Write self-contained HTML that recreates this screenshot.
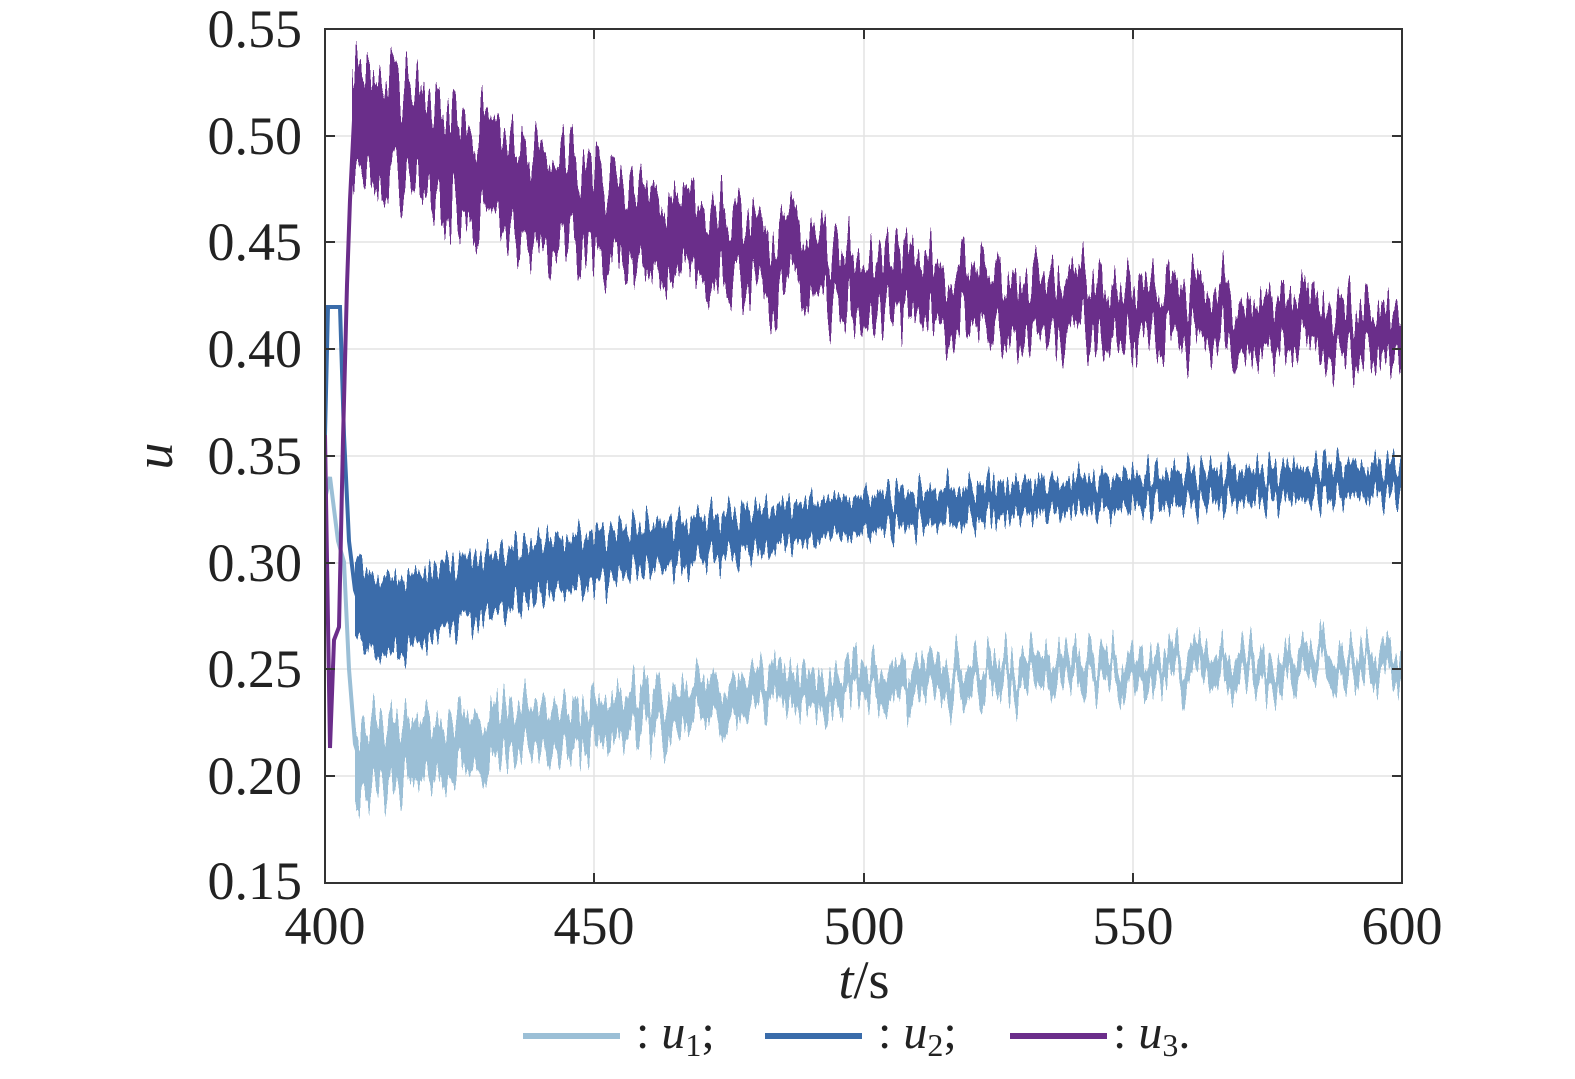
<!DOCTYPE html>
<html><head><meta charset="utf-8"><style>
html,body{margin:0;padding:0;background:#fff;}
svg{display:block;font-family:"Liberation Serif",serif;}
</style></head><body>
<svg width="1575" height="1079" viewBox="0 0 1575 1079" xmlns="http://www.w3.org/2000/svg">
<defs>
<clipPath id="cp"><rect x="325" y="29" width="1077" height="854"/></clipPath>
<filter id="n1" filterUnits="userSpaceOnUse" x="300" y="0" width="1150" height="950">
<feTurbulence type="fractalNoise" baseFrequency="0.22 0.002" numOctaves="2" seed="3" result="t"/>
<feColorMatrix in="t" type="matrix" values="0 0 0 0 0.5  0 1 0 0 0  0 0 0 0 0  0 0 0 0 1" result="m"/>
<feDisplacementMap in="SourceGraphic" in2="m" scale="90" xChannelSelector="R" yChannelSelector="G"/>
</filter>
<filter id="n2" filterUnits="userSpaceOnUse" x="300" y="0" width="1150" height="950">
<feTurbulence type="fractalNoise" baseFrequency="0.22 0.002" numOctaves="2" seed="7" result="t"/>
<feColorMatrix in="t" type="matrix" values="0 0 0 0 0.5  0 1 0 0 0  0 0 0 0 0  0 0 0 0 1" result="m"/>
<feDisplacementMap in="SourceGraphic" in2="m" scale="70" xChannelSelector="R" yChannelSelector="G"/>
</filter>
<filter id="n3" filterUnits="userSpaceOnUse" x="300" y="0" width="1150" height="950">
<feTurbulence type="fractalNoise" baseFrequency="0.2 0.002" numOctaves="2" seed="11" result="t"/>
<feColorMatrix in="t" type="matrix" values="0 0 0 0 0.5  0 1 0 0 0  0 0 0 0 0  0 0 0 0 1" result="m"/>
<feDisplacementMap in="SourceGraphic" in2="m" scale="130" xChannelSelector="R" yChannelSelector="G"/>
</filter>
</defs>
<rect width="1575" height="1079" fill="#fff"/>
<g stroke="#e3e3e3" stroke-width="1.5">
<line x1="594" y1="29" x2="594" y2="883"/><line x1="864" y1="29" x2="864" y2="883"/><line x1="1133" y1="29" x2="1133" y2="883"/>
<line x1="325" y1="136" x2="1402" y2="136"/><line x1="325" y1="242" x2="1402" y2="242"/><line x1="325" y1="349" x2="1402" y2="349"/>
<line x1="325" y1="456" x2="1402" y2="456"/><line x1="325" y1="563" x2="1402" y2="563"/><line x1="325" y1="669" x2="1402" y2="669"/><line x1="325" y1="776" x2="1402" y2="776"/>
</g>
<g clip-path="url(#cp)">
<!-- transients -->
<polyline fill="none" stroke="#9bbfd6" stroke-width="4" points="325,499 330,477 338,541 344,562 349,669 355,744 360,760"/>
<polyline fill="none" stroke="#3a6caa" stroke-width="4" points="325,435 328,307 340,307 344,435 349,541 355,590 360,605"/>
<polyline fill="none" stroke="#6b2d8a" stroke-width="4" points="325,435 330,748 334,640 339,627 343,440 347,285 350,200 354,120 358,110"/>
<!-- bands -->
<g filter="url(#n1)">
<polygon fill="#9bbfd6" points="355,728 379,727 433,718 540,703 648,691 756,678 864,670 1025,659 1187,651 1420,644 1420,672 1187,681 1025,691 864,704 756,716 648,733 540,751 433,778 379,795 355,800"/>
</g>
<g filter="url(#n2)">
<polygon fill="#3a6caa" points="355,562 379,578 433,567 540,541 648,525 756,508 864,495 1025,482 1187,471 1420,463 1420,495 1187,505 1025,516 864,533 756,550 648,571 540,597 433,635 379,654 355,648"/>
</g>
<g filter="url(#n3)">
<polygon fill="#6b2d8a" points="352,70 379,70 433,100 540,150 648,192 756,222 864,248 1025,277 1187,292 1420,310 1420,360 1187,347 1025,337 864,310 756,293 648,272 540,245 433,202 379,178 352,175"/>
</g>
</g>
<rect x="325" y="29" width="1077" height="854" fill="none" stroke="#333" stroke-width="2"/>
<g stroke="#333" stroke-width="2">
<line x1="594" y1="883" x2="594" y2="873"/><line x1="864" y1="883" x2="864" y2="873"/><line x1="1133" y1="883" x2="1133" y2="873"/>
<line x1="594" y1="29" x2="594" y2="39"/><line x1="864" y1="29" x2="864" y2="39"/><line x1="1133" y1="29" x2="1133" y2="39"/>
<line x1="325" y1="136" x2="335" y2="136"/><line x1="325" y1="242" x2="335" y2="242"/><line x1="325" y1="349" x2="335" y2="349"/><line x1="325" y1="456" x2="335" y2="456"/><line x1="325" y1="563" x2="335" y2="563"/><line x1="325" y1="669" x2="335" y2="669"/><line x1="325" y1="776" x2="335" y2="776"/>
<line x1="1402" y1="136" x2="1392" y2="136"/><line x1="1402" y1="242" x2="1392" y2="242"/><line x1="1402" y1="349" x2="1392" y2="349"/><line x1="1402" y1="456" x2="1392" y2="456"/><line x1="1402" y1="563" x2="1392" y2="563"/><line x1="1402" y1="669" x2="1392" y2="669"/><line x1="1402" y1="776" x2="1392" y2="776"/>
</g>
<g font-size="54" fill="#222" text-anchor="end">
<text x="302" y="47">0.55</text><text x="302" y="154">0.50</text><text x="302" y="260">0.45</text><text x="302" y="367">0.40</text>
<text x="302" y="474">0.35</text><text x="302" y="581">0.30</text><text x="302" y="687">0.25</text><text x="302" y="794">0.20</text><text x="302" y="899">0.15</text>
</g>
<g font-size="54" fill="#222" text-anchor="middle">
<text x="325" y="944">400</text><text x="594" y="944">450</text><text x="864" y="944">500</text><text x="1133" y="944">550</text><text x="1402" y="944">600</text>
<text x="864" y="998"><tspan font-style="italic">t</tspan>/s</text>
</g>
<text transform="translate(172,456) rotate(-90)" font-size="54" font-style="italic" fill="#222" text-anchor="middle">u</text>
<g font-size="48" fill="#222">
<line x1="523" y1="1036" x2="620" y2="1036" stroke="#9bbfd6" stroke-width="6"/>
<text x="636" y="1048">: <tspan font-style="italic">u</tspan><tspan font-size="32" dy="8">1</tspan><tspan dy="-8">;</tspan></text>
<line x1="765" y1="1036" x2="862" y2="1036" stroke="#3a6caa" stroke-width="6"/>
<text x="878" y="1048">: <tspan font-style="italic">u</tspan><tspan font-size="32" dy="8">2</tspan><tspan dy="-8">;</tspan></text>
<line x1="1010" y1="1036" x2="1107" y2="1036" stroke="#6b2d8a" stroke-width="6"/>
<text x="1113" y="1048">: <tspan font-style="italic">u</tspan><tspan font-size="32" dy="8">3</tspan><tspan dy="-8">.</tspan></text>
</g>
</svg>
</body></html>
